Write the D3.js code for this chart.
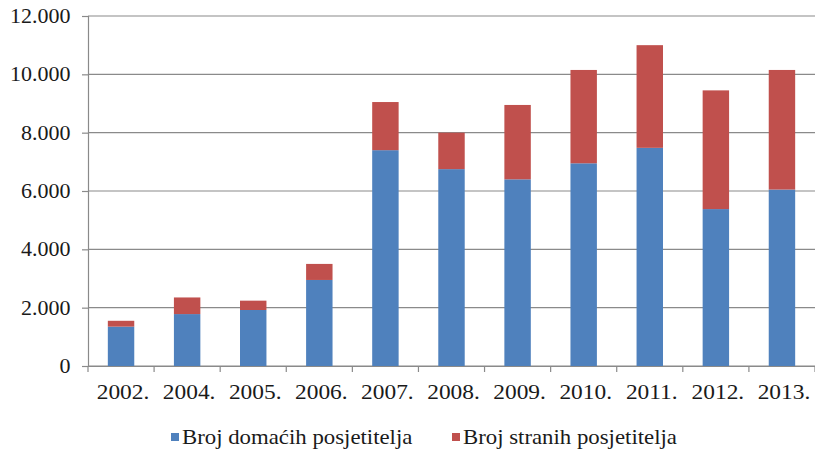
<!DOCTYPE html>
<html><head><meta charset="utf-8">
<script src="https://cdn.jsdelivr.net/npm/d3@7"></script>
<style>body{margin:0;background:#fff}svg{display:block}</style>
</head><body>
<svg id="c" width="815" height="450"></svg>
<script>
const years = ["2002.","2004.","2005.","2006.","2007.","2008.","2009.","2010.","2011.","2012.","2013."];
const domestic = [1350,1780,1920,2950,7400,6750,6400,6950,7480,5380,6050];
const foreign  = [200,570,320,550,1650,1250,2550,3200,3520,4070,4100];
const yTicks = [0,2000,4000,6000,8000,10000,12000];
const seriesNames = ["Broj domaćih posjetitelja","Broj stranih posjetitelja"];
const colors = ["#4F81BD","#C0504D"];

const svg = d3.select("#c");
const m = {l:88, r:815, t:16, b:366};
const x = d3.scaleBand().domain(years).range([m.l, m.r]).paddingInner(0.6).paddingOuter(0.3);
const xb = d3.scaleBand().domain(years).range([m.l, m.r]);
const y = d3.scaleLinear().domain([0,12000]).range([m.b, m.t]);
const fmt = v => v===0 ? "0" : d3.format(",")(v).replace(/,/g,".");
const font = "'Liberation Serif','Times New Roman',serif";
const ink = "#1a1a1a", gridC = "#8a8a8a";

// gridlines
svg.append("g").selectAll("line").data(yTicks).join("line")
  .attr("x1", m.l).attr("x2", m.r)
  .attr("y1", d=>y(d)).attr("y2", d=>y(d))
  .attr("stroke",gridC).attr("stroke-width",1.2);

// y axis
const ya = svg.append("g").attr("transform",`translate(${m.l},0)`)
  .call(d3.axisLeft(y).tickValues(yTicks).tickFormat(fmt).tickSize(6).tickPadding(10));
ya.select(".domain").attr("stroke",gridC).attr("stroke-width",1.2);
ya.selectAll(".tick line").attr("stroke",gridC).attr("stroke-width",1.2);
ya.selectAll("text").attr("font-family",font).attr("font-size",20).attr("fill",ink)
  .attr("dy","0.33em").attr("transform","scale(1.1,1)");

// stacked bars
const data = years.map((yr,i)=>({yr, d:domestic[i], f:foreign[i]}));
const stack = d3.stack().keys(["d","f"])(data);
svg.append("g").selectAll("g").data(stack).join("g")
  .attr("fill",(s,i)=>colors[i])
  .selectAll("rect").data(s=>s).join("rect")
  .attr("x", d=>x(d.data.yr)).attr("width", x.bandwidth())
  .attr("y", d=>y(d[1])).attr("height", d=>y(d[0])-y(d[1]));

// x axis
const xa = svg.append("g").attr("transform",`translate(0,${m.b})`)
  .call(d3.axisBottom(xb).tickSize(0).tickPadding(19));
xa.select(".domain").attr("stroke",gridC).attr("stroke-width",1.2);
xa.selectAll("text").attr("font-family",font).attr("font-size",20).attr("fill",ink)
  .attr("transform","translate(2,0) scale(1.17,1)");
// boundary ticks
const bounds = years.map(yr=>xb(yr)).concat([m.r]);
svg.append("g").selectAll("line").data(bounds).join("line")
  .attr("x1",d=>d).attr("x2",d=>d).attr("y1",m.b).attr("y2",m.b+6)
  .attr("stroke",gridC).attr("stroke-width",1.2);

// legend
const legX = [171, 452];
const lg = svg.append("g").selectAll("g").data(seriesNames).join("g")
  .attr("transform",(d,i)=>`translate(${legX[i]},433)`);
lg.append("rect").attr("width",8).attr("height",8).attr("fill",(d,i)=>colors[i]);
lg.append("text").attr("transform","translate(11,11) scale(1.14,1)").text(d=>d)
  .attr("font-family",font).attr("font-size",20).attr("fill",ink);
</script>
</body></html>
